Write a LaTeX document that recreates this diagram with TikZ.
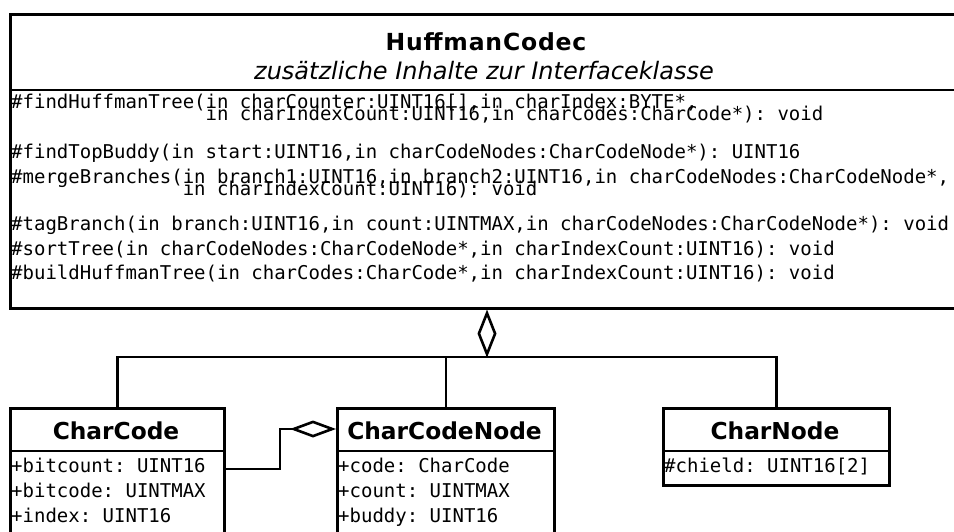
\documentclass[tikz,border=0pt]{standalone}
\usepackage{fontspec}
\setmonofont{DejaVu Sans Mono}
\newfontfamily\umlsans{DejaVu Sans}
\newfontfamily\umltitle[LetterSpace=3.5]{DejaVu Sans}
\usetikzlibrary{arrows.meta}

\tikzset{
  umlbox/.style={draw, line width=2.6pt, inner sep=0pt, anchor=north west},
  link/.style={line width=2.6pt},
  classname/.style={font=\umlsans\bfseries\fontsize{23.3}{28}\selectfont, inner sep=0pt, anchor=base},
  stereo/.style={font=\umlsans\itshape\fontsize{24}{28}\selectfont, inner sep=0pt, anchor=base},
  member/.style={font=\ttfamily\fontsize{19}{23}\selectfont, inner sep=0pt, anchor=base west},
}

\begin{document}
\begin{tikzpicture}[x=1pt, y=-1pt]
  \path[use as bounding box] (0,0) rectangle (954,532);
  \clip (0,0) rectangle (954,532);

  % HuffmanCodec class
  \node[umlbox, minimum width=952pt, minimum height=294pt] (codec) at (9,13) {};
  \draw[link] (codec.west |- 0,90) -- (codec.east |- 0,90);
  \node[classname, font=\umltitle\bfseries\fontsize{23.5}{28}\selectfont] (title) at (486,50.5) {HuffmanCodec};
  \node[stereo] (subtitle) at (484,79.5) {zusätzliche Inhalte zur Interfaceklasse};

  \node[member] (m1a) at (11,108.5) {\#findHuffmanTree(in charCounter:UINT16[],in charIndex:BYTE*,};
  \node[member] (m1b) at (11,120.5) {\hphantom{\#findHuffmanTree(}in charIndexCount:UINT16,in charCodes:CharCode*): void};
  \node[member] (m2) at (11,158.5) {\#findTopBuddy(in start:UINT16,in charCodeNodes:CharCodeNode*): UINT16};
  \node[member] (m3a) at (11,183.5) {\#mergeBranches(in branch1:UINT16,in branch2:UINT16,in charCodeNodes:CharCodeNode*,};
  \node[member] (m3b) at (11,195.5) {\hphantom{\#mergeBranches(}in charIndexCount:UINT16): void};
  \node[member] (m4) at (11,230.5) {\#tagBranch(in branch:UINT16,in count:UINTMAX,in charCodeNodes:CharCodeNode*): void};
  \node[member] (m5) at (11,255) {\#sortTree(in charCodeNodes:CharCodeNode*,in charIndexCount:UINT16): void};
  \node[member] (m6) at (11,279.5) {\#buildHuffmanTree(in charCodes:CharCode*,in charIndexCount:UINT16): void};

  % CharCode class
  \node[umlbox, minimum width=214pt, minimum height=140pt] (charcode) at (9,407) {};
  \draw[link] (charcode.west |- 0,451) -- (charcode.east |- 0,451);
  \node[classname] (charcodename) at (116,439.5) {CharCode};
  \node[member] (bitcount) at (11,472) {+bitcount: UINT16};
  \node[member] (bitcode) at (11,497) {+bitcode: UINTMAX};
  \node[member] (index) at (11,522) {+index: UINT16};

  % CharCodeNode class
  \node[umlbox, minimum width=217pt, minimum height=140pt] (ccnode) at (336,407) {};
  \draw[link] (ccnode.west |- 0,451) -- (ccnode.east |- 0,451);
  \node[classname] (ccnodename) at (444.5,439.5) {CharCodeNode};
  \node[member] (code) at (338,472) {+code: CharCode};
  \node[member] (count) at (338,497) {+count: UINTMAX};
  \node[member] (buddy) at (338,522) {+buddy: UINT16};

  % CharNode class
  \node[umlbox, minimum width=226pt, minimum height=77pt] (charnode) at (662,407) {};
  \draw[link] (charnode.west |- 0,451) -- (charnode.east |- 0,451);
  \node[classname] (charnodename) at (775,439.5) {CharNode};
  \node[member] (chield) at (664,472) {\#chield: UINT16[2]};

  % aggregation of the three classes into HuffmanCodec
  \coordinate (bus) at (487,357);
  \draw[link] (charcode.north) |- (bus) -| (charnode.north);
  \draw[link] (ccnode.north) -- (ccnode.north |- bus);
  \draw[link, -{Diamond[open, length=48pt, width=19pt]}] (bus) -- (bus |- codec.south);

  % aggregation of CharCode into CharCodeNode
  \coordinate (elbowlow) at (280,469);
  \coordinate (elbow) at (280,429);
  \draw[link, -{Diamond[open, length=46pt, width=17pt]}]
    (charcode.east |- elbowlow) -- (elbowlow) -- (elbow) -- (ccnode.west |- elbow);
\end{tikzpicture}
\end{document}
